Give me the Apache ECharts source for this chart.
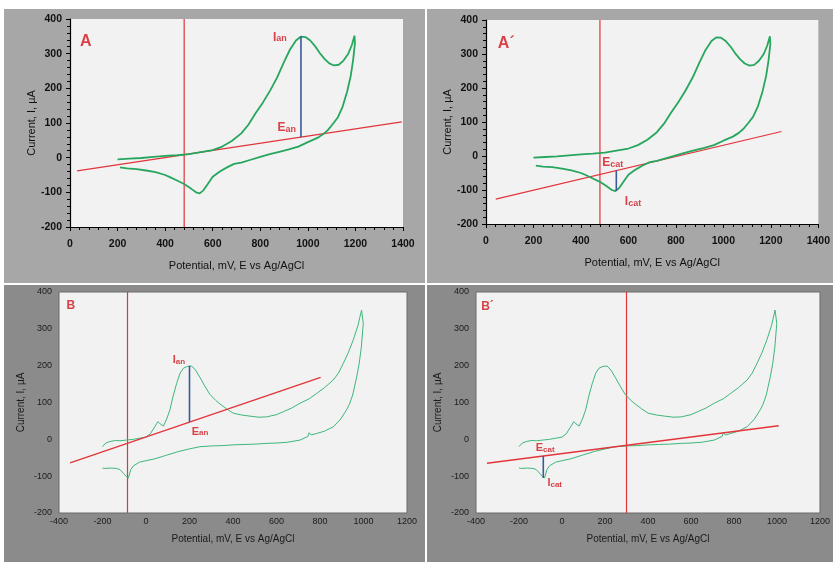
<!DOCTYPE html>
<html>
<head>
<meta charset="utf-8">
<script src="https://cdn.jsdelivr.net/npm/echarts@6/dist/echarts.min.js"></script>
<style>
  html, body { margin: 0; padding: 0; background: #ffffff; }
  #chart { width: 833px; height: 562px; }
</style>
</head>
<body>
<div id="chart"></div>
<script>
// Cyclic voltammograms, Potential (mV vs Ag/AgCl) vs Current (µA)

// Panels A / A': scan 200 -> 1200 -> 200 mV
const cvA = [
  [200,-5],[250,-3],[300,-1],[350,2],[400,5],[450,7],[500,10],[550,16],[600,22],[640,32],
  [680,48],[720,70],[750,95],[780,128],[810,158],[840,192],[870,230],[900,276],[925,312],
  [950,338],[970,349],[990,348],[1010,338],[1030,322],[1050,302],[1070,285],[1090,272],
  [1110,266],[1130,268],[1150,280],[1170,300],[1185,325],[1196,352],
  [1198,330],[1190,280],[1180,235],[1165,190],[1145,145],[1125,115],[1105,97],[1085,80],
  [1065,68],[1040,57],[1000,45],[960,32],[920,24],[880,17],[840,10],[800,2],[760,-6],
  [720,-14],[690,-18],[660,-28],[630,-40],[600,-55],[580,-75],[560,-95],[545,-103],
  [530,-100],[510,-90],[480,-76],[450,-66],[420,-56],[400,-50],[360,-42],[320,-37],
  [280,-33],[240,-31],[210,-28]
];
// Panels B / B': scan -200 -> 1000 -> -200 mV
const cvB = [
  [-200,-20],[-185,-10],[-166,-6],[-140,-3],[-120,-4],[-90,-2],[-58,0],[-30,3],[0,6],
  [20,15],[40,34],[55,48],[65,42],[80,36],[95,55],[110,80],[125,118],[141,152],[157,180],
  [172,193],[190,198],[210,199],[228,188],[248,168],[270,145],[294,122],[320,106],
  [340,96],[370,83],[401,71],[440,66],[478,63],[520,60],[555,61],[600,67],[631,75],
  [670,85],[708,98],[750,110],[785,125],[820,140],[861,161],[885,180],[907,206],
  [930,235],[953,270],[975,310],[991,351],[996,350],
  [999,315],[990,250],[980,205],[969,170],[950,120],[935,95],[922,80],[895,55],[861,34],
  [820,22],[785,16],[760,12],[750,18],[745,8],[708,-2],[650,-8],[600,-10],[555,-11],
  [500,-13],[450,-14],[401,-15],[350,-17],[300,-18],[248,-20],[200,-26],[150,-33],
  [95,-43],[40,-53],[0,-58],[-30,-62],[-58,-72],[-70,-82],[-81,-105],[-92,-100],
  [-104,-92],[-120,-82],[-135,-79],[-160,-78],[-189,-79],[-200,-78]
];

// Baselines (red), potential markers (red vertical) and peak heights (blue)
const baseA  = [[30,-38],[1395,103]];
const baseA2 = [[41,-127],[1245,72]];
const baseB  = [[-349,-64],[803,168]];
const baseB2 = [[-349,-65],[1008,37]];
const vMarkA  = 480;
const vMarkA2 = 480;
const vMarkB  = -85;
const vMarkB2 = 300;
const peakA  = [[971,59],[971,350]];
const peakA2 = [[549,-43],[549,-103]];
const peakB  = [[200,47],[200,200]];
const peakB2 = [[-87,-45],[-87,-105]];

// Axis ranges / ticks
const xTicksTop = { min: 0, max: 1400, interval: 200 };
const xTicksBot = { min: -400, max: 1200, interval: 200 };
const yTicks    = { min: -200, max: 400, interval: 100 };

// Annotation texts: [x, y, main, subscript]
const notesA  = [[42,334,'A',''],[853,347,'I','an'],[872,86,'E','an']];
const notesA2 = [[50,332,'A´',''],[490,-21,'E','cat'],[585,-134,'I','cat']];
const notesB  = [[-365,362,'B',''],[123,215,'I','an'],[210,21,'E','an']];
const notesB2 = [[-376,360,'B´',''],[-122,-24,'E','cat'],[-68,-119,'I','cat']];

const chart = echarts.init(document.getElementById('chart'), null, { renderer: 'canvas' });

const FONT = 'Liberation Sans, Arial, sans-serif';
const XNAME = 'Potential, mV, E vs Ag/AgCl';
const YNAME = 'Current, I, µA';
const plain = v => String(v);

const grids = [
  { left: 70,  top: 19,  width: 333, height: 208 },
  { left: 486, top: 20,  width: 334, height: 204 },
  { left: 59,  top: 292, width: 348, height: 221 },
  { left: 476, top: 292, width: 347, height: 221 }
].map((g, i) => Object.assign(g, {
  show: true,
  backgroundColor: '#f2f2f2',
  borderWidth: i < 2 ? 0 : 1,
  borderColor: '#6a6a6a'
}));

function topX(i) {
  return {
    type: 'value', gridIndex: i, min: xTicksTop.min, max: xTicksTop.max, interval: xTicksTop.interval,
    axisLine: { show: true, onZero: false, lineStyle: { color: '#000', width: 1.2 } },
    axisTick: { show: true, length: 4, lineStyle: { color: '#000' } },
    minorTick: { show: true, splitNumber: 5, length: 3, lineStyle: { color: '#000' } },
    splitLine: { show: false },
    axisLabel: { color: '#111', fontWeight: 'bold', fontSize: 10.5, fontFamily: FONT, margin: 12, formatter: plain },
    name: XNAME, nameLocation: 'middle', nameGap: 33,
    nameTextStyle: { color: '#111', fontSize: 11, fontFamily: FONT }
  };
}
function topY(i) {
  return {
    type: 'value', gridIndex: i, min: yTicks.min, max: yTicks.max, interval: yTicks.interval,
    axisLine: { show: true, onZero: false, lineStyle: { color: '#000', width: 1.2 } },
    axisTick: { show: true, length: 4, lineStyle: { color: '#000' } },
    minorTick: { show: true, splitNumber: 5, length: 3, lineStyle: { color: '#000' } },
    splitLine: { show: false },
    axisLabel: { color: '#111', fontWeight: 'bold', fontSize: 10.5, fontFamily: FONT, margin: 8, formatter: plain },
    name: YNAME, nameLocation: 'middle', nameGap: 33,
    nameTextStyle: { color: '#111', fontSize: 11, fontFamily: FONT }
  };
}
function botX(i) {
  return {
    type: 'value', gridIndex: i, min: xTicksBot.min, max: xTicksBot.max, interval: xTicksBot.interval,
    axisLine: { show: false }, axisTick: { show: false }, splitLine: { show: false },
    axisLabel: { color: '#1a1a1a', fontSize: 9, fontFamily: FONT, margin: 4, formatter: plain },
    name: XNAME, nameLocation: 'middle', nameGap: 21,
    nameTextStyle: { color: '#1a1a1a', fontSize: 10, fontFamily: FONT }
  };
}
function botY(i) {
  return {
    type: 'value', gridIndex: i, min: yTicks.min, max: yTicks.max, interval: yTicks.interval,
    axisLine: { show: false }, axisTick: { show: false }, splitLine: { show: false },
    axisLabel: { color: '#1a1a1a', fontSize: 9, fontFamily: FONT, margin: 7, formatter: plain },
    name: YNAME, nameLocation: 'middle', nameGap: 33,
    nameTextStyle: { color: '#1a1a1a', fontSize: 10, fontFamily: FONT }
  };
}

const GREEN_TOP = '#27a65e';
const GREEN_BOT = '#3db77a';
const RED = '#e2353a';
const BLUE = '#3a5a98';
const LABEL_RED = '#d0141c';

function line(i, data, color, width, z) {
  return {
    type: 'line', xAxisIndex: i, yAxisIndex: i, data: data,
    showSymbol: false, symbol: 'none', silent: true, animation: false, z: z || 2,
    lineStyle: { color: color, width: width }
  };
}
function vline(i, x, width) {
  return line(i, [[x, yTicks.min], [x, yTicks.max]], RED, width, 3);
}
function notes(i, items, big, small, letterSize) {
  return {
    type: 'scatter', xAxisIndex: i, yAxisIndex: i, symbolSize: 0, silent: true, animation: false, z: 10,
    data: items.map(n => ({ value: [n[0], n[1]], main: n[2], sub: n[3] })),
    label: {
      show: true, position: [0, 0], align: 'left', verticalAlign: 'middle',
      formatter: p => p.data.sub ? '{m|' + p.data.main + '}{s|' + p.data.sub + '}' : '{L|' + p.data.main + '}',
      rich: {
        L: { fontSize: letterSize, fontWeight: 'bold', color: LABEL_RED, fontFamily: FONT, verticalAlign: 'bottom' },
        m: { fontSize: big, fontWeight: 'bold', color: LABEL_RED, fontFamily: FONT, verticalAlign: 'bottom' },
        s: { fontSize: small, fontWeight: 'bold', color: LABEL_RED, fontFamily: FONT, verticalAlign: 'bottom' }
      }
    }
  };
}

const option = {
  backgroundColor: '#ffffff',
  animation: false,
  graphic: [
    { type: 'rect', shape: { x: 4, y: 9, width: 421, height: 274 }, style: { fill: '#a7a7a7' }, z: -10 },
    { type: 'rect', shape: { x: 427, y: 9, width: 406, height: 274 }, style: { fill: '#a7a7a7' }, z: -10 },
    { type: 'rect', shape: { x: 4, y: 285, width: 421, height: 277 }, style: { fill: '#8b8b8b' }, z: -10 },
    { type: 'rect', shape: { x: 427, y: 285, width: 406, height: 277 }, style: { fill: '#8b8b8b' }, z: -10 }
  ],
  grid: grids,
  xAxis: [topX(0), topX(1), botX(2), botX(3)],
  yAxis: [topY(0), topY(1), botY(2), botY(3)],
  series: [
    // A
    vline(0, vMarkA, 1.2),
    line(0, baseA, RED, 1.2, 3),
    line(0, cvA, GREEN_TOP, 1.8, 4),
    line(0, peakA, BLUE, 1.6, 5),
    notes(0, notesA, 12, 9, 16),
    // A'
    vline(1, vMarkA2, 1.2),
    line(1, baseA2, RED, 1.2, 3),
    line(1, cvA, GREEN_TOP, 1.8, 4),
    line(1, peakA2, BLUE, 1.6, 5),
    notes(1, notesA2, 12, 9, 16),
    // B
    vline(2, vMarkB, 1.2),
    line(2, cvB, GREEN_BOT, 1, 4),
    line(2, baseB, RED, 1.4, 5),
    line(2, peakB, BLUE, 1.6, 6),
    notes(2, notesB, 11, 8, 12),
    // B'
    vline(3, vMarkB2, 1.2),
    line(3, cvB, GREEN_BOT, 1, 4),
    line(3, baseB2, RED, 1.4, 5),
    line(3, peakB2, BLUE, 1.6, 6),
    notes(3, notesB2, 11, 8, 12)
  ]
};

chart.setOption(option);
</script>
</body>
</html>
